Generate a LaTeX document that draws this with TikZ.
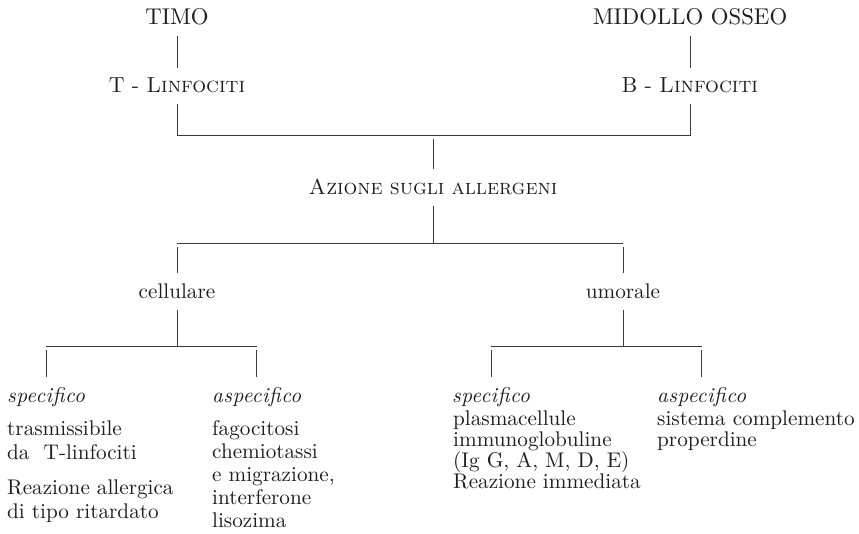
\documentclass[tikz,border=0pt]{standalone}
\usepackage{fontspec}
\setmainfont{lmroman10-regular.otf}[ItalicFont=lmroman10-italic.otf,SmallCapsFont=lmromancaps10-regular.otf]
\usetikzlibrary{calc}
\definecolor{mytxt}{HTML}{1E1E1E}
\definecolor{mylin}{HTML}{3C3C3C}

\begin{document}
\begin{tikzpicture}[
 x=1pt,y=-1pt,
 lab/.style={anchor=base,inner sep=10pt,text=mytxt,font=\fontsize{22.8}{26}\selectfont},
 sub/.style={anchor=base,inner sep=11pt,text=mytxt,font=\fontsize{21.2}{24}\selectfont},
 hd/.style={anchor=base west,inner xsep=0pt,inner ysep=10pt,text=mytxt,font=\fontsize{21.2}{24}\selectfont\itshape\addfontfeature{LetterSpace=2}},
 ds/.style={anchor=north west,inner sep=0pt,align=left,text=mytxt},
 ln/.style={draw=mylin,line width=0.7pt},
 g/.style={shorten <=4pt}
]
\useasboundingbox (0,0) rectangle (859,534);
% origin
\node[lab] (timo) at (177,25) {TIMO};
\node[lab] (mo) at (690,25) {MIDOLLO OSSEO};
\node[lab,font=\fontsize{21.8}{25}\selectfont] (tl) at (177,93) {T\ -\ \textsc{Linfociti}};
\node[lab,font=\fontsize{21.8}{25}\selectfont] (bl) at (690,93) {B\ -\ \textsc{Linfociti}};
\node[lab,font=\fontsize{21.6}{25}\selectfont] (az) at (433,195) {\textsc{Azione}\ \textsc{sugli}\ \textsc{allergeni}};
\coordinate (j1) at (433,135);
\coordinate (j2) at (433,243);
% two ways
\node[sub] (ce) at (177,299) {cellulare};
\node[sub] (um) at (623,299) {umorale};
\coordinate (j3) at (177,346);
\coordinate (j4) at (623,346);
% four kinds
\node[hd] (cs) at (7,402) {specifico};
\node[hd] (ca) at (212,402) {aspecifico};
\node[hd] (us) at (452,402) {specifico};
\node[hd] (ua) at (657,402) {aspecifico};
\node[ds,font=\fontsize{21.2}{24}\selectfont] (csd) at (7,420.3) {trasmissibile\\da\ \ T-linfociti\\[11pt]Reazione allergica\\di tipo ritardato};
\node[ds,font=\fontsize{21.2}{23}\selectfont] (cad) at (212,420.1) {fagocitosi\\chemiotassi\\e migrazione,\\interferone\\lisozima};
\node[ds,font=\fontsize{21.2}{21}\selectfont] (usd) at (453,410.3) {plasmacellule\\immunoglobuline\\(Ig G, A, M, D, E)\\Reazione immediata};
\node[ds,font=\fontsize{21.2}{21.5}\selectfont] (uad) at (657,410.3) {sistema complemento\\properdine};
% connectors
\draw[ln] (timo.south) -- (tl.north);
\draw[ln] (mo.south) -- (bl.north);
\draw[ln] (tl.south) -- (tl.south |- j1) -- (bl.south |- j1) -- (bl.south);
\draw[ln,g] (j1) -- (az.north);
\draw[ln] (az.south) -- (j2);
\draw[ln] (ce.north |- j2) -- (um.north |- j2);
\draw[ln,g] (ce.north |- j2) -- (ce.north);
\draw[ln,g] (um.north |- j2) -- (um.north);
\draw[ln] (ce.south) -- (j3);
\draw[ln] (um.south) -- (j4);
\draw[ln] (cs.north |- j3) -- (ca.north |- j3);
\draw[ln] (us.north |- j4) -- (ua.north |- j4);
\draw[ln,g] (cs.north |- j3) -- (cs.north);
\draw[ln,g] (ca.north |- j3) -- (ca.north);
\draw[ln,g] (us.north |- j4) -- (us.north);
\draw[ln,g] (ua.north |- j4) -- (ua.north);
\end{tikzpicture}
\end{document}
